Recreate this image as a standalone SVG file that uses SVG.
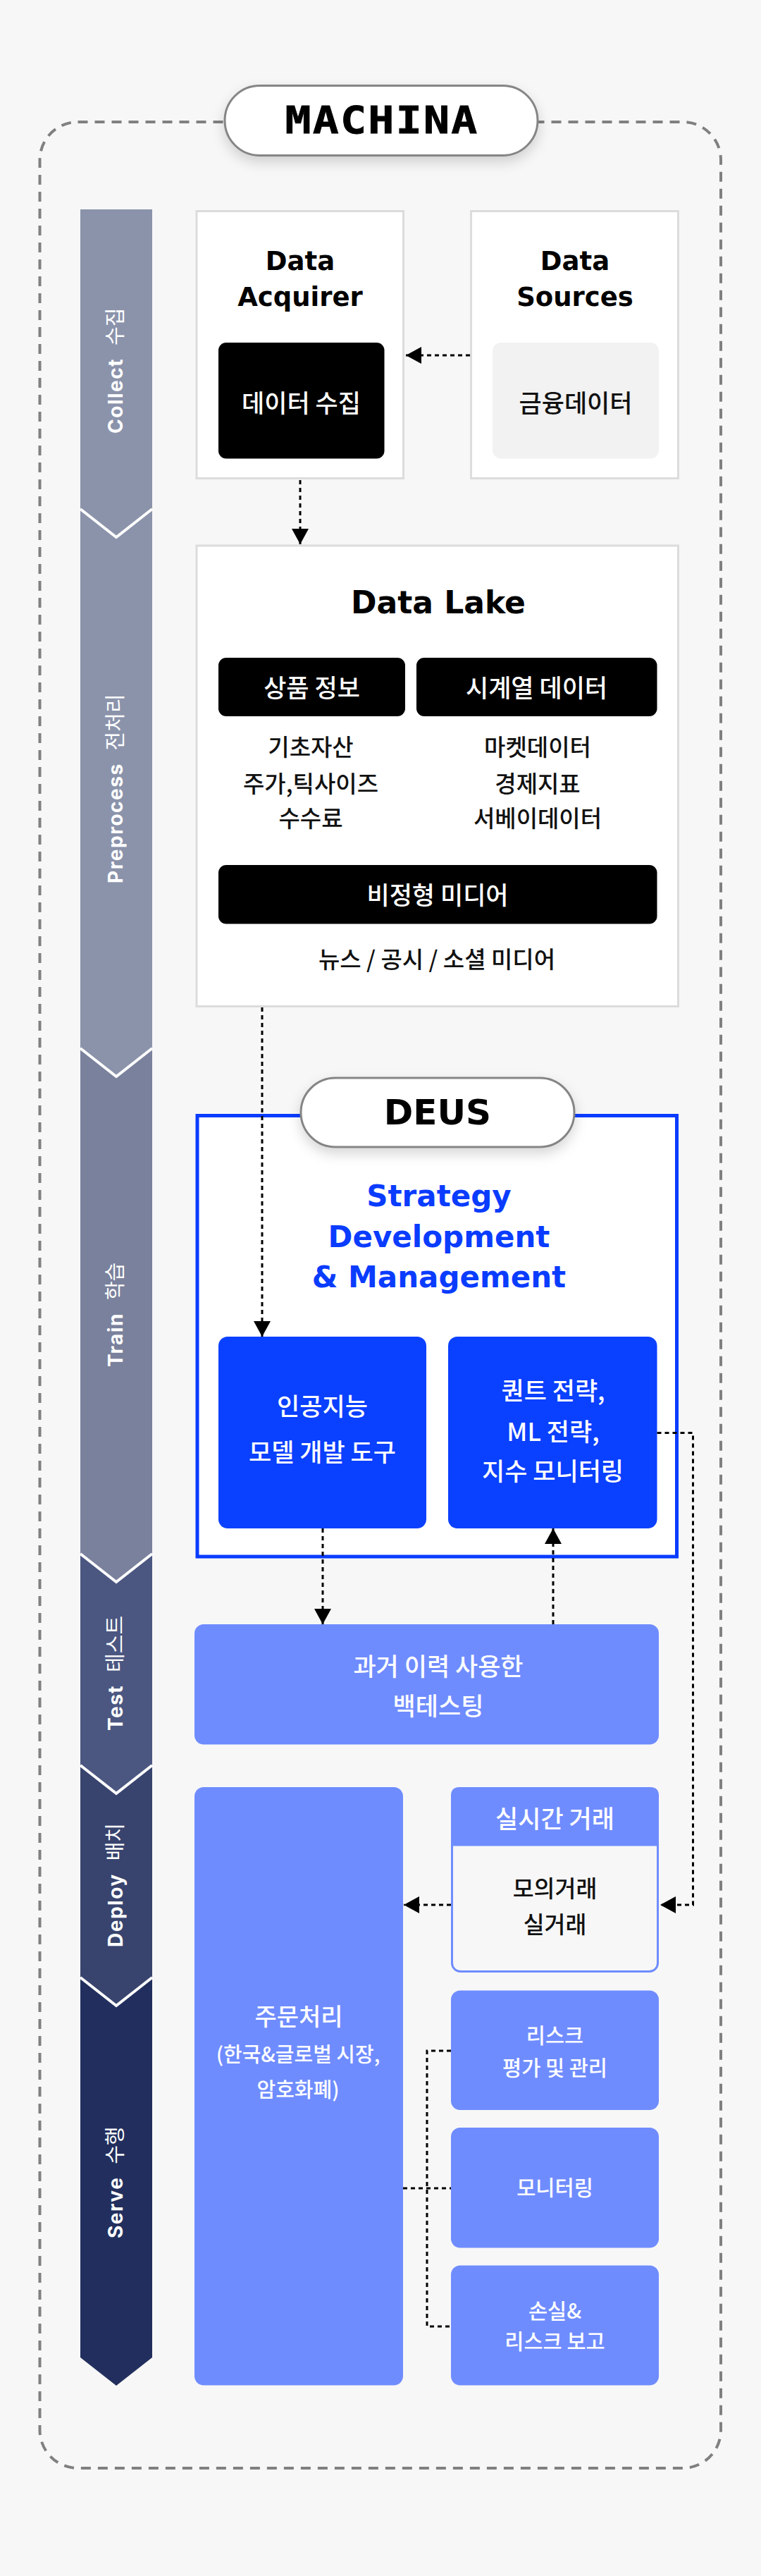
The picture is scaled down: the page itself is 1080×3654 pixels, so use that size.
<svg xmlns="http://www.w3.org/2000/svg" width="1080" height="3654" viewBox="0 0 1080 3654">
<defs>
<style>
.bg{fill:#f7f7f7}
.card{fill:#ffffff;stroke:#dcdcdc;stroke-width:3}
.blk{fill:#000000}
.blue{fill:#0a40ff}
.lb{fill:#6f8cff}
.title{font-family:"DejaVu Sans",sans-serif;font-weight:700;fill:#000;text-anchor:middle}
.kr{font-family:"Noto Sans CJK KR",sans-serif;font-weight:500;text-anchor:middle;dominant-baseline:central}
.w{fill:#ffffff}
.k{fill:#111111}
.phe{font-family:Inter,"DejaVu Sans",sans-serif;font-weight:700;font-size:28px;letter-spacing:1.5px;fill:#fff}
.phk{font-family:"Noto Sans CJK KR",sans-serif;font-weight:400;font-size:29px;fill:#fff}
.sep{fill:none;stroke:#fff;stroke-width:4}
.dot{fill:none;stroke:#000;stroke-width:3;stroke-dasharray:6 5}
.pill{fill:#fff;stroke:#858585;stroke-width:3}
</style>
<filter id="sh" x="-20%" y="-40%" width="140%" height="200%">
<feDropShadow dx="0" dy="8" stdDeviation="9" flood-color="#000" flood-opacity="0.16"/>
</filter>
<marker id="ah" viewBox="0 0 22 24" refX="22" refY="12" markerWidth="22" markerHeight="24" markerUnits="userSpaceOnUse" orient="auto">
<path d="M0,0 L22,12 L0,24 Z" fill="#000"/>
</marker>
</defs>
<rect class="bg" x="0" y="0" width="1080" height="3654"/>

<g id="machina-frame">
<rect x="56.5" y="173" width="966.5" height="3328" rx="54" ry="54" fill="none" stroke="#808080" stroke-width="4" stroke-dasharray="14 10"/>
</g>

<g id="phases">
<polygon fill="#8b93ab" points="114,297 216,297 216,722 165,762 114,722"/>
<polygon fill="#8b93ab" points="114,722 165,762 216,722 216,1487 165,1527 114,1487"/>
<polygon fill="#7a819c" points="114,1487 165,1527 216,1487 216,2204 165,2244 114,2204"/>
<polygon fill="#4b5781" points="114,2204 165,2244 216,2204 216,2504 165,2544 114,2504"/>
<polygon fill="#38446e" points="114,2504 165,2544 216,2504 216,2805 165,2845 114,2805"/>
<polygon fill="#222f5e" points="114,2805 165,2845 216,2805 216,3344 165,3384 114,3344"/>
<polyline class="sep" points="114,722 165,762 216,722"/>
<polyline class="sep" points="114,1487 165,1527 216,1487"/>
<polyline class="sep" points="114,2204 165,2244 216,2204"/>
<polyline class="sep" points="114,2504 165,2544 216,2504"/>
<polyline class="sep" points="114,2805 165,2845 216,2805"/>
<text transform="translate(174,615) rotate(-90)"><tspan class="phe">Collect</tspan><tspan class="phk" dx="18">수집</tspan></text>
<text transform="translate(174,1253) rotate(-90)"><tspan class="phe">Preprocess</tspan><tspan class="phk" dx="18">전처리</tspan></text>
<text transform="translate(174,1939) rotate(-90)"><tspan class="phe">Train</tspan><tspan class="phk" dx="18">학습</tspan></text>
<text transform="translate(174,2455) rotate(-90)"><tspan class="phe">Test</tspan><tspan class="phk" dx="18">테스트</tspan></text>
<text transform="translate(174,2762) rotate(-90)"><tspan class="phe">Deploy</tspan><tspan class="phk" dx="18">배치</tspan></text>
<text transform="translate(174,3175) rotate(-90)"><tspan class="phe">Serve</tspan><tspan class="phk" dx="18">수행</tspan></text>
</g>

<g id="machina-label">
<rect class="pill" x="319" y="121.5" width="444" height="99" rx="49.5" filter="url(#sh)"/>
<text transform="translate(542,189) scale(1.16,1)" x="0" y="0" font-family="'DejaVu Sans Mono',monospace" font-weight="700" font-size="53" letter-spacing="2" text-anchor="middle" fill="#000" stroke="#000" stroke-width="0.8">MACHINA</text>
</g>

<g id="data-acquirer">
<rect class="card" x="279" y="299.5" width="293.5" height="379"/>
<text class="title" x="426" y="383" font-size="37">Data</text>
<text class="title" x="426" y="434" font-size="37">Acquirer</text>
<rect class="blk" x="310" y="486" width="235.5" height="164.5" rx="11"/>
<text class="kr w" x="427.5" y="569" font-size="35">데이터 수집</text>
</g>

<g id="data-sources">
<rect class="card" x="668.5" y="299.5" width="294" height="379"/>
<text class="title" x="816" y="383" font-size="37">Data</text>
<text class="title" x="816" y="434" font-size="37">Sources</text>
<rect x="699" y="486" width="236" height="164.5" rx="12" fill="#f2f2f2"/>
<text class="kr k" x="817" y="569" font-size="35">금융데이터</text>
</g>

<g id="data-lake">
<rect class="card" x="279" y="774" width="683.5" height="653.5"/>
<text class="title" x="622" y="870" font-size="44">Data Lake</text>
<rect class="blk" x="310" y="933" width="265" height="83" rx="11"/>
<text class="kr w" x="442.5" y="973.5" font-size="35">상품 정보</text>
<rect class="blk" x="591" y="933" width="341.5" height="83" rx="11"/>
<text class="kr w" x="761.5" y="973.5" font-size="35">시계열 데이터</text>
<text class="kr k" x="441" y="1058" font-size="33">기초자산</text>
<text class="kr k" x="441" y="1110" font-size="33">주가,틱사이즈</text>
<text class="kr k" x="441" y="1159" font-size="33">수수료</text>
<text class="kr k" x="763" y="1058" font-size="33">마켓데이터</text>
<text class="kr k" x="763" y="1110" font-size="33">경제지표</text>
<text class="kr k" x="763" y="1159" font-size="33">서베이데이터</text>
<rect class="blk" x="310" y="1227" width="622.5" height="83.5" rx="11"/>
<text class="kr w" x="621" y="1267.5" font-size="35">비정형 미디어</text>
<text class="kr k" x="620" y="1358.5" font-size="33">뉴스 / 공시 / 소셜 미디어</text>
</g>

<g id="deus">
<rect x="280" y="1582.5" width="680.5" height="625.5" fill="#fff" stroke="#0a3cff" stroke-width="5"/>
<rect class="pill" x="427" y="1529" width="388" height="98" rx="49" filter="url(#sh)"/>
<text class="title" x="621" y="1595" font-size="50">DEUS</text>
<text class="title" x="623" y="1711" font-size="42" style="fill:#0a3cff">Strategy</text>
<text class="title" x="623" y="1769" font-size="42" style="fill:#0a3cff">Development</text>
<text class="title" x="623" y="1826" font-size="42" style="fill:#0a3cff">&amp; Management</text>
</g>

<g id="ai-tools">
<rect class="blue" x="310" y="1896" width="295" height="272" rx="13"/>
<text class="kr w" x="457.5" y="1992" font-size="35">인공지능</text>
<text class="kr w" x="457.5" y="2057" font-size="35">모델 개발 도구</text>
</g>

<g id="quant-strategy">
<rect class="blue" x="636" y="1896" width="296.5" height="272" rx="13"/>
<text class="kr w" x="785" y="1970" font-size="35">퀀트 전략,</text>
<text class="kr w" x="785" y="2028" font-size="35">ML 전략,</text>
<text class="kr w" x="784.5" y="2084" font-size="35">지수 모니터링</text>
</g>

<g id="backtest">
<rect class="lb" x="276" y="2304" width="659" height="170.5" rx="13"/>
<text class="kr w" x="622" y="2361" font-size="35">과거 이력 사용한</text>
<text class="kr w" x="622" y="2417" font-size="35">백테스팅</text>
</g>

<g id="order-processing">
<rect class="lb" x="276" y="2535" width="296" height="848.5" rx="13"/>
<text class="kr w" x="424" y="2858" font-size="34">주문처리</text>
<text class="kr w" x="423" y="2912" font-size="29">(한국&amp;글로벌 시장,</text>
<text class="kr w" x="423" y="2962" font-size="29">암호화폐)</text>
</g>

<g id="realtime-trading">
<rect x="641.5" y="2536.5" width="292" height="260" rx="12" fill="#f7f7f7" stroke="#6f8cff" stroke-width="3"/>
<path class="lb" d="M640,2618.5 V2547 Q640,2535 652,2535 H923 Q935,2535 935,2547 V2618.5 Z"/>
<text class="kr w" x="787.5" y="2577" font-size="35">실시간 거래</text>
<text class="kr k" x="787.5" y="2676" font-size="32.5">모의거래</text>
<text class="kr k" x="787.5" y="2727" font-size="32.5">실거래</text>
</g>

<g id="risk-management">
<rect class="lb" x="640" y="2823.5" width="295" height="169.5" rx="13"/>
<text class="kr w" x="787.5" y="2885" font-size="29.5">리스크</text>
<text class="kr w" x="787.5" y="2931" font-size="29.5">평가 및 관리</text>
</g>

<g id="monitoring">
<rect class="lb" x="640" y="3018" width="295" height="170.5" rx="13"/>
<text class="kr w" x="787.5" y="3101" font-size="29.5">모니터링</text>
</g>

<g id="loss-report">
<rect class="lb" x="640" y="3213.5" width="295" height="170" rx="13"/>
<text class="kr w" x="787.5" y="3276" font-size="29.5">손실&amp;</text>
<text class="kr w" x="787.5" y="3319" font-size="29.5">리스크 보고</text>
</g>

<g id="connectors">
<line class="dot" x1="667" y1="504" x2="576" y2="504" marker-end="url(#ah)"/>
<line class="dot" x1="426" y1="681" x2="426" y2="772" marker-end="url(#ah)"/>
<line class="dot" x1="372" y1="1429" x2="372" y2="1896" marker-end="url(#ah)"/>
<line class="dot" x1="458" y1="2168" x2="458" y2="2304" marker-end="url(#ah)"/>
<line class="dot" x1="785" y1="2304" x2="785" y2="2168" marker-end="url(#ah)"/>
<polyline class="dot" points="932.5,2032.5 983.5,2032.5 983.5,2702 937,2702" marker-end="url(#ah)"/>
<line class="dot" x1="640" y1="2702" x2="573" y2="2702" marker-end="url(#ah)"/>
<line class="dot" x1="572" y1="3104" x2="640" y2="3104"/>
<polyline class="dot" points="640,2909 606,2909 606,3300 640,3300"/>
</g>
</svg>
